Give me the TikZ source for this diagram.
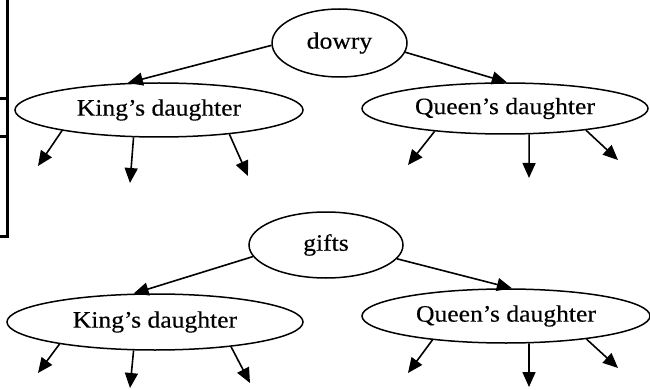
\documentclass[tikz,border=0pt]{standalone}
\usepackage{fontspec}
\setmainfont[FakeStretch=1.09,FakeBold=0.4]{Liberation Serif}
\usetikzlibrary{shapes.geometric,arrows.meta}
\begin{document}
\begin{tikzpicture}[x=1pt,y=-1pt,
  oval/.style={ellipse,draw,line width=1.5pt,inner sep=0pt,font=\fontsize{23.5}{26}\selectfont},
  arr/.style={line width=1.6pt,-{Triangle[length=15pt,width=13pt]}},
  frame/.style={line width=3pt}]
\useasboundingbox (0,0) rectangle (650,390);
% partial table border on the left
\draw[frame] (0,99) -- (7,99);
\draw[frame] (0,137) -- (7,137);
\draw[frame] (7,0) -- (7,236) -- (0,236);
% top tree
\node[oval,minimum width=135pt,minimum height=68pt] (dowry) at (339.5,43) {dowry};
\node[oval,minimum width=288pt,minimum height=54pt] (kd1) at (159,110) {King’s daughter};
\node[oval,minimum width=286pt,minimum height=51pt] (qd1) at (505,108.5) {Queen’s daughter};
\draw[arr] (dowry.182) -- (kd1.139);
\draw[arr] (dowry.352) -- (qd1.86);
\coordinate (k1a) at (38,166);
\coordinate (k1b) at (130,183);
\coordinate (k1c) at (248,176);
\draw[arr] (kd1.192.6) -- (k1a);
\draw[arr] (kd1.227.2) -- (k1b);
\draw[arr] (kd1.341.6) -- (k1c);
\coordinate (q1a) at (408,165);
\coordinate (q1b) at (529,178);
\coordinate (q1c) at (618,160);
\draw[arr] (qd1.198.1) -- (q1a);
\draw[arr] (qd1.313.3) -- (q1b);
\draw[arr] (qd1.345.2) -- (q1c);
% bottom tree
\node[oval,minimum width=154pt,minimum height=66pt] (gifts) at (326,245) {gifts};
\node[oval,minimum width=296pt,minimum height=56pt] (kd2) at (155,322) {King’s daughter};
\node[oval,minimum width=288pt,minimum height=54pt] (qd2) at (506,316) {Queen’s daughter};
\draw[arr] (gifts.189.2) -- (kd2.127);
\draw[arr] (gifts.349.6) -- (qd2.78);
\coordinate (k2a) at (38,373);
\coordinate (k2b) at (130,388);
\coordinate (k2c) at (250,383);
\draw[arr] (kd2.193.9) -- (k2a);
\draw[arr] (kd2.233.1) -- (k2b);
\draw[arr] (kd2.342.6) -- (k2c);
\coordinate (q2a) at (408,373);
\coordinate (q2b) at (529,387);
\coordinate (q2c) at (618,368);
\draw[arr] (qd2.198.7) -- (q2a);
\draw[arr] (qd2.310.4) -- (q2b);
\draw[arr] (qd2.344.3) -- (q2c);
\end{tikzpicture}
\end{document}
